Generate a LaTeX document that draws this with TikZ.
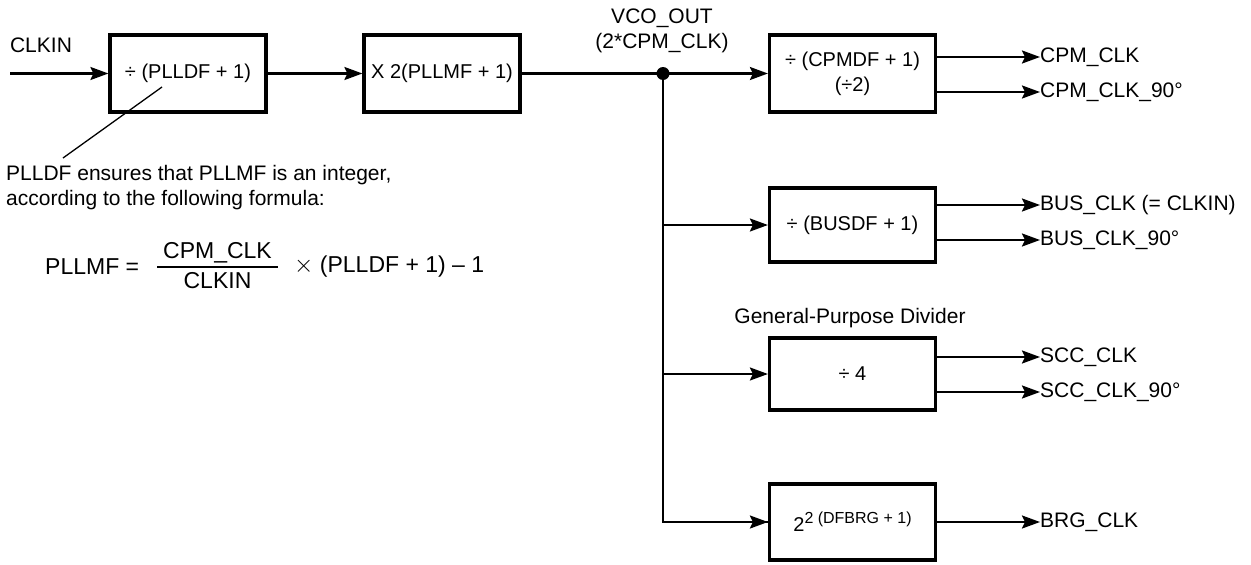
\documentclass[tikz,border=0pt]{standalone}
\usepackage{fontspec}
\setmainfont{Liberation Sans}
\usetikzlibrary{arrows.meta}
\begin{document}
\begin{tikzpicture}[x=1pt,y=-1pt,
  font=\fontsize{21}{25}\selectfont,
  blk/.style={draw, line width=3.2pt, minimum width=166pt, minimum height=76pt, inner sep=0pt, align=center, font=\fontsize{20}{25}\selectfont},
  con/.style={line width=2.2pt, -{Stealth[length=18pt,width=13pt,inset=3pt]}},
  wire/.style={line width=2.2pt},
  lbl/.style={inner sep=0pt},
  outl/.style={inner sep=0pt, anchor=west},
  fml/.style={inner sep=0pt, font=\fontsize{23}{27}\selectfont}]
\useasboundingbox (0,0) rectangle (1251,565);
% blocks
\node[blk, minimum width=156pt, minimum height=77pt] (b1) at (188,73.5) {÷ (PLLDF + 1)};
\node[blk, minimum width=156pt, minimum height=77pt] (b2) at (442,73.5) {X 2(PLLMF + 1)};
\node[blk, minimum height=77pt] (b3) at (852.5,73.5) {÷ (CPMDF + 1)\\(÷2)};
\node[blk, minimum height=74pt] (b4) at (852.5,225) {÷ (BUSDF + 1)};
\node[blk, minimum height=72pt] (b5) at (852.5,374) {÷ 4};
\node[blk, minimum height=76pt] (b6) at (852.5,522) {2\raisebox{8pt}{\fontsize{16}{18}\selectfont 2 (DFBRG + 1)}};
% labels
\node[lbl] (clkin) at (41,45) {CLKIN};
\coordinate (in) at (10,73.5);
\node[lbl, align=center] (vco) at (662,31) {VCO\_OUT\\(2*CPM\_CLK)};
\node[lbl] (gpd) at (850,318) {General-Purpose Divider};
% input chain
\draw[con] (in) -- (b1.west);
\draw[con] (b1.east) -- (b2.west);
\coordinate (j) at (663,73.5);
\draw[wire] (b2.east) -- (j);
\fill (j) circle (6.5pt);
\draw[con] (j) -- (b3.west);
\draw[wire] (j) |- (b6.west);
\draw[con] (j |- b4.west) -- (b4.west);
\draw[con] (j |- b5.west) -- (b5.west);
\draw[con] (j |- b6.west) -- (b6.west);
% outputs
\node[outl] (o1) at (1040,57) {CPM\_CLK};
\node[outl] (o2) at (1040,92) {CPM\_CLK\_90°};
\node[outl] (o3) at (1040,205) {BUS\_CLK (= CLKIN)};
\node[outl] (o4) at (1040,240) {BUS\_CLK\_90°};
\node[outl] (o5) at (1040,357) {SCC\_CLK};
\node[outl] (o6) at (1040,392) {SCC\_CLK\_90°};
\node[outl] (o7) at (1040,522) {BRG\_CLK};
\draw[con] (b3.east |- o1.west) -- (o1.west);
\draw[con] (b3.east |- o2.west) -- (o2.west);
\draw[con] (b4.east |- o3.west) -- (o3.west);
\draw[con] (b4.east |- o4.west) -- (o4.west);
\draw[con] (b5.east |- o5.west) -- (o5.west);
\draw[con] (b5.east |- o6.west) -- (o6.west);
\draw[con] (b6.east |- o7.west) -- (o7.west);
% annotation
\coordinate (a1) at (162,87);
\coordinate (a2) at (63,158);
\draw[line width=1.3pt] (a1) -- (a2);
\node[lbl, anchor=west] (n1) at (6,175) {PLLDF ensures that PLLMF is an integer,};
\node[lbl, anchor=west] (n2) at (6,200) {according to the following formula:};
% formula
\node[fml, anchor=west] (f1) at (45,267) {PLLMF =};
\node[fml] (fn) at (217.5,253) {CPM\_CLK};
\node[fml] (fd) at (217.5,281) {CLKIN};
\coordinate (fl) at (157,267);
\coordinate (fr) at (278,267);
\draw[line width=1.4pt] (fl) -- (fr);
\node[fml, anchor=west] (f2) at (294,267) {$\times$ (PLLDF + 1) – 1};
\end{tikzpicture}
\end{document}
